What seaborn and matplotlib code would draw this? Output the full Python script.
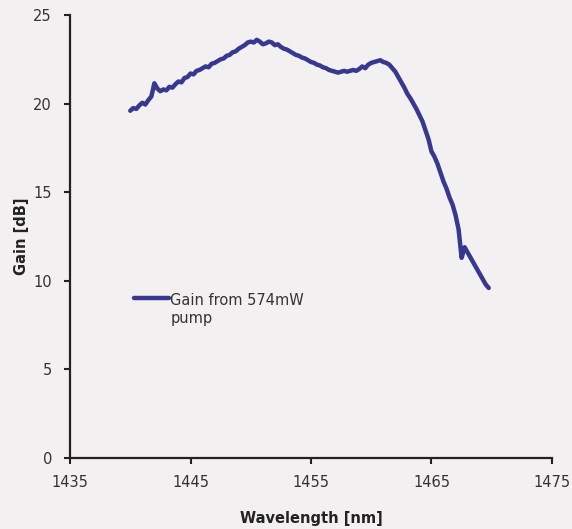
import numpy as np
import pandas as pd
import matplotlib
matplotlib.use("Agg")
import matplotlib.pyplot as plt
import seaborn as sns

# Measured gain spectrum (0.25 nm steps)
wavelength_nm = [1440.00 + 0.25 * i for i in range(120)]
gain_db = [
    19.60, 19.75, 19.70, 19.90, 20.05, 19.95, 20.20, 20.40,
    21.15, 20.85, 20.70, 20.80, 20.75, 20.95, 20.90, 21.10,
    21.25, 21.20, 21.45, 21.50, 21.70, 21.65, 21.85, 21.90,
    22.00, 22.10, 22.05, 22.25, 22.30, 22.40, 22.50, 22.55,
    22.70, 22.75, 22.90, 22.95, 23.10, 23.20, 23.30, 23.45,
    23.50, 23.45, 23.60, 23.50, 23.35, 23.40, 23.50, 23.45,
    23.30, 23.35, 23.20, 23.10, 23.05, 22.95, 22.85, 22.75,
    22.70, 22.60, 22.55, 22.45, 22.35, 22.30, 22.20, 22.15,
    22.05, 22.00, 21.90, 21.85, 21.80, 21.75, 21.80, 21.85,
    21.80, 21.85, 21.90, 21.85, 21.95, 22.10, 22.00, 22.20,
    22.30, 22.35, 22.40, 22.45, 22.35, 22.30, 22.20, 22.00,
    21.80, 21.50, 21.20, 20.90, 20.55, 20.30, 20.00, 19.70,
    19.35, 19.00, 18.50, 18.00, 17.30, 17.00, 16.60, 16.10,
    15.60, 15.20, 14.70, 14.30, 13.70, 12.90, 11.30, 11.90,
    11.60, 11.30, 11.00, 10.70, 10.40, 10.10, 9.80, 9.60,
]
series_label = "Gain from 574mW\npump"

x_ticks = [1435, 1445, 1455, 1465, 1475]
y_ticks = [0, 5, 10, 15, 20, 25]

df = pd.DataFrame({"Wavelength": wavelength_nm, "Gain": gain_db})

sns.set_theme(style="ticks")
plt.rcParams["font.family"] = ["DejaVu Sans"]

bg = "#f2f0f0"
line_color = "#38388f"

fig = plt.figure(figsize=(5.72, 5.29), dpi=100, facecolor=bg)
ax = fig.add_axes([0.1224, 0.134, 0.8426, 0.8376])
ax.set_facecolor(bg)

sns.lineplot(data=df, x="Wavelength", y="Gain", ax=ax, color=line_color,
             linewidth=3.2, label=series_label)

ax.set_xlim(1435, 1475)
ax.set_ylim(0, 25)
ax.set_xticks(x_ticks)
ax.set_yticks(y_ticks)
ax.tick_params(axis="both", direction="out", length=4, width=1.5,
               colors="#222222", labelsize=10.5, labelcolor="#333333")
ax.tick_params(axis="x", pad=8)
ax.tick_params(axis="y", pad=9)

for side in ("top", "right"):
    ax.spines[side].set_visible(False)
for side in ("left", "bottom"):
    ax.spines[side].set_color("#222222")
    ax.spines[side].set_linewidth(1.6)

ax.set_xlabel("Wavelength [nm]", fontsize=10.5, fontweight="bold",
              color="#222222", labelpad=15)
ax.set_ylabel("Gain [dB]", fontsize=10.5, fontweight="bold",
              color="#222222", labelpad=3)

leg = ax.legend(loc="upper left", bbox_to_anchor=(0.12, 0.385), frameon=False,
                fontsize=10.5, handlelength=2.4, handletextpad=0.1,
                borderaxespad=0)
# keep the legend line level with the first line of its two-line label
for row in leg._legend_handle_box.get_children():
    for entry in row.get_children():
        entry.align = "top"
for t in leg.get_texts():
    t.set_color("#333333")
for h in leg.legend_handles:
    h.set_linewidth(3.2)

fig.savefig("out.png", dpi=100, facecolor=bg)
